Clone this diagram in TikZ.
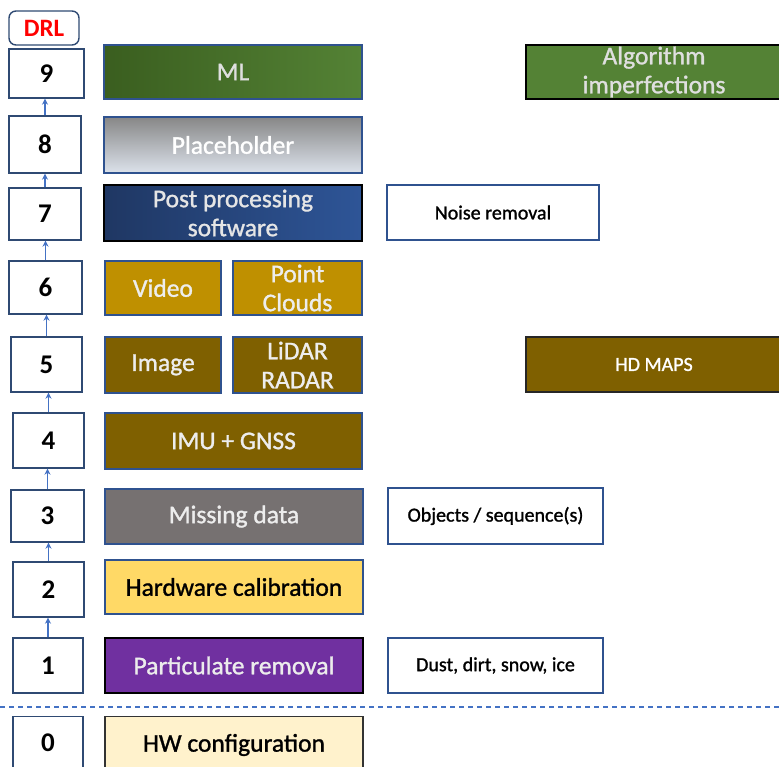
\documentclass[tikz,border=0pt]{standalone}
\usepackage{fontspec}
\setmainfont{Carlito}
\newfontfamily\heavysans[FakeBold=1.2]{Carlito}
\usetikzlibrary{arrows.meta}

\definecolor{lvlborder}{HTML}{2F4A73}
\definecolor{bordblue}{HTML}{2F528F}
\definecolor{arrowblue}{HTML}{4472C4}
\definecolor{lighttxt}{HTML}{EDEDED}
\definecolor{mlleft}{HTML}{3A5E1F}
\definecolor{mlright}{HTML}{548235}
\definecolor{phtop}{HTML}{878787}
\definecolor{phbottom}{HTML}{DCE2EB}
\definecolor{ppleft}{HTML}{1F3763}
\definecolor{ppright}{HTML}{2E5597}
\definecolor{gold}{HTML}{BF9000}
\definecolor{brown}{HTML}{7F6000}
\definecolor{slate}{HTML}{767171}
\definecolor{sunny}{HTML}{FFD966}
\definecolor{violet}{HTML}{7030A0}
\definecolor{cream}{HTML}{FFF2CC}
\definecolor{leaf}{HTML}{548235}

\tikzset{
  sz/.style 2 args={minimum width=#1pt, minimum height=#2pt},
  lvl/.style={draw=lvlborder, line width=1.4pt, fill=white, inner sep=0pt,
    font=\bfseries\fontsize{27}{27}\selectfont},
  blk/.style={draw=bordblue, line width=1.2pt, inner sep=0pt, align=center,
    font=\heavysans\fontsize{25.5}{29}\selectfont, text=lighttxt},
  note/.style={draw=bordblue, line width=1.2pt, fill=white, inner sep=0pt,
    font=\heavysans\fontsize{20}{22}\selectfont},
  up/.style={-{Stealth[length=6pt,width=6pt]}, draw=arrowblue, line width=1.4pt},
  sep/.style={draw=arrowblue, line width=1.2pt, dash pattern=on 5pt off 4pt}
}

\begin{document}
\begin{tikzpicture}[x=1pt,y=-1pt]
\clip (0,0) rectangle (779,767);
\fill[white] (0,0) rectangle (779,767);

% level column
\node[lvl, sz={70}{34}, rounded corners=7pt, text=red, font=\bfseries\fontsize{25}{25}\selectfont] (drl) at (44,28) {DRL};
\node[lvl, sz={75}{49}] (n9) at (46.5,73.5) {9};
\node[lvl, sz={72}{57}] (n8) at (45,144.5) {8};
\node[lvl, sz={72}{52}] (n7) at (45,214) {7};
\node[lvl, sz={73}{53}] (n6) at (45.5,287.5) {6};
\node[lvl, sz={71}{55}] (n5) at (46.5,364.5) {5};
\node[lvl, sz={71}{55}] (n4) at (48.5,440.5) {4};
\node[lvl, sz={73}{52}] (n3) at (47.5,516) {3};
\node[lvl, sz={71}{55}] (n2) at (48.5,589.5) {2};
\node[lvl, sz={70}{55}] (n1) at (48,665.5) {1};
\node[lvl, sz={70}{64}, anchor=north] (n0) at (48,716) {};
\node[font=\bfseries\fontsize{27}{27}\selectfont] (n0t) at (48,743) {0};

% arrows between levels
\foreach \a/\b in {n1/n2,n2/n3,n3/n4,n4/n5,n5/n6,n6/n7,n7/n8,n8/n9}
  \draw[up] (\a.north) -- (\a.north |- \b.south);

% separator below level 1
\coordinate (sepL) at (0,707);
\coordinate (sepR) at (779,707);
\draw[sep] (sepL) -- (sepR);

% main blocks
\node[blk, sz={258}{54}, left color=mlleft, right color=mlright, text=gray!25] (ml) at (233,72) {ML};
\node[blk, sz={258}{56}, top color=phtop, bottom color=phbottom, text=white] (ph) at (233,145) {Placeholder};
\node[blk, sz={258}{56}, left color=ppleft, right color=ppright, draw=black, text=gray!20] (pp) at (233,213) {Post processing\\software};
\node[blk, sz={116}{54}, fill=gold] (video) at (163,288) {Video};
\node[blk, sz={129}{54}, fill=gold] (pc) at (297.5,288) {Point\\Clouds};
\node[blk, sz={116}{56}, fill=brown] (img) at (163,365) {Image};
\node[blk, sz={129}{56}, fill=brown] (lidar) at (297.5,365) {LiDAR\\RADAR};
\node[blk, sz={257}{56}, fill=brown] (imu) at (233.5,441) {IMU + GNSS};
\node[blk, sz={258}{55}, fill=slate] (md) at (234,516.5) {Missing data};
\node[blk, sz={258}{54}, fill=sunny, text=black] (hc) at (234,587) {Hardware calibration};
\node[blk, sz={258}{55}, fill=violet, draw=black, text=gray!15] (pr) at (234,665.5) {Particulate removal};
\node[blk, sz={258}{64}, anchor=north, fill=cream, draw=black!80] (hw) at (234,716) {};
\node[font=\heavysans\fontsize{25.5}{29}\selectfont] (hwt) at (234,745) {HW configuration};

% side notes
\node[blk, sz={256}{54}, fill=leaf, draw=black, text=gray!25] (alg) at (654,72) {Algorithm\\imperfections};
\node[note, sz={212}{55}] (nr) at (493,212.5) {Noise removal};
\node[blk, sz={256}{55}, fill=brown, draw=black!85, text=white, font=\heavysans\fontsize{20}{22}\selectfont] (hd) at (654,364.5) {HD MAPS};
\node[note, sz={215}{56}] (obj) at (495.5,516) {Objects / sequence(s)};
\node[note, sz={215}{55}] (dust) at (495.5,665.5) {Dust, dirt, snow, ice};
\end{tikzpicture}
\end{document}
